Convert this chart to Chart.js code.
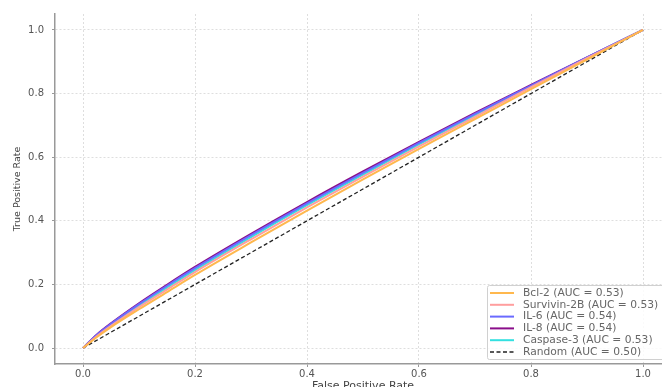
<!DOCTYPE html>
<html>
<head>
<meta charset="utf-8">
<script src="https://cdn.jsdelivr.net/npm/chart.js@4/dist/chart.umd.min.js"></script>
<style>
  html, body { margin: 0; padding: 0; background: #fff; overflow: hidden; width: 662px; height: 387px; }
  #wrap { position: absolute; left: 0; top: 0; width: 672px; height: 398px; }
</style>
</head>
<body>
<div id="wrap"><canvas id="c" width="672" height="398"></canvas></div>
<script>
// False positive rate sample points (shared by all curves)
const fpr = [0, 0.025, 0.05, 0.1, 0.15, 0.2, 0.3, 0.4, 0.5, 0.6, 0.7, 0.8, 0.9, 1.0];
// True positive rate
const tprBcl2     = [0, 0.035, 0.066, 0.122, 0.176, 0.230, 0.332, 0.432, 0.530, 0.626, 0.720, 0.814, 0.907, 1.0];
const tprSurvivin = [0, 0.038, 0.070, 0.129, 0.184, 0.239, 0.342, 0.442, 0.539, 0.634, 0.727, 0.820, 0.911, 1.0];
const tprIL6      = [0, 0.042, 0.076, 0.138, 0.196, 0.251, 0.355, 0.455, 0.551, 0.645, 0.736, 0.825, 0.914, 1.0];
const tprIL8      = [0, 0.043, 0.078, 0.141, 0.199, 0.255, 0.359, 0.459, 0.555, 0.648, 0.739, 0.827, 0.914, 1.0];
const tprCaspase3 = [0, 0.040, 0.073, 0.133, 0.190, 0.245, 0.349, 0.449, 0.545, 0.640, 0.732, 0.823, 0.913, 1.0];
const randomX = [0, 1];
const randomY = [0, 1];
const seriesNames = ["Bcl-2", "Survivin-2B", "IL-6", "IL-8", "Caspase-3", "Random"];
const aucValues = ["0.53", "0.53", "0.54", "0.54", "0.53", "0.50"];
const tickValues = [0, 0.2, 0.4, 0.6, 0.8, 1.0];

const colors = ["#FFB84D", "#FF9E9E", "#6A6AFF", "#8A0E8A", "#33E0E0", "#222222"];
const seriesY = [tprBcl2, tprSurvivin, tprIL6, tprIL8, tprCaspase3];

const pts = (xs, ys) => xs.map((x, i) => ({x: x, y: ys[i]}));

const datasets = seriesY.map((ys, i) => ({
  label: seriesNames[i] + " (AUC = " + aucValues[i] + ")",
  data: pts(fpr, ys),
  borderColor: colors[i],
  borderWidth: 2,
  pointRadius: 0,
  showLine: true,
  fill: false,
  cubicInterpolationMode: 'monotone'
}));
datasets.push({
  label: seriesNames[5] + " (AUC = " + aucValues[5] + ")",
  data: pts(randomX, randomY),
  borderColor: colors[5],
  borderWidth: 1.3,
  borderDash: [4, 2.5],
  pointRadius: 0,
  showLine: true,
  fill: false
});

const legendPlugin = {
  id: 'innerLegend',
  afterDatasetsDraw(chart) {
    const ctx = chart.ctx;
    const x0 = 487, y0 = 285, w = 200, h = 74;
    ctx.save();
    ctx.fillStyle = 'rgba(255,255,255,0.85)';
    ctx.strokeStyle = '#d0d0d0';
    ctx.lineWidth = 1;
    ctx.beginPath();
    if (ctx.roundRect) ctx.roundRect(x0 + 0.5, y0 + 0.5, w, h, 2); else ctx.rect(x0 + 0.5, y0 + 0.5, w, h);
    ctx.fill();
    ctx.stroke();
    ctx.font = '10.7px "DejaVu Sans"';
    ctx.textBaseline = 'middle';
    chart.data.datasets.forEach((ds, i) => {
      const y = y0 + 8 + i * 11.8;
      ctx.strokeStyle = ds.borderColor;
      ctx.lineWidth = ds.borderWidth;
      ctx.setLineDash(ds.borderDash || []);
      ctx.beginPath();
      ctx.moveTo(490, y);
      ctx.lineTo(514, y);
      ctx.stroke();
      ctx.setLineDash([]);
      ctx.fillStyle = '#666';
      ctx.fillText(ds.label, 523, y);
    });
    ctx.restore();
  }
};

const gridCfg = { color: '#dedede', tickLength: 3, tickColor: '#999', drawTicks: true };

new Chart(document.getElementById('c'), {
  type: 'scatter',
  data: { datasets: datasets },
  options: {
    responsive: false,
    animation: false,
    layout: { padding: { top: 12, right: 1, left: 0, bottom: 0 } },
    plugins: { legend: { display: false }, tooltip: { enabled: false } },
    scales: {
      x: {
        type: 'linear', min: -0.05, max: 1.05,
        afterBuildTicks: s => { s.ticks = tickValues.map(v => ({value: v})); },
        afterFit: s => { s.height = 34; },
        ticks: { callback: v => v.toFixed(1), color: '#555', padding: 1, maxRotation: 0,
                 font: { family: 'DejaVu Sans', size: 10 } },
        grid: Object.assign({}, gridCfg),
        border: { color: '#999', width: 1.5, dash: [2, 2] },
        title: { display: true, text: 'False Positive Rate', color: '#444',
                 font: { family: 'DejaVu Sans', size: 11 }, padding: { top: 0, bottom: 5 } }
      },
      y: {
        type: 'linear', min: -0.05, max: 1.05,
        afterBuildTicks: s => { s.ticks = tickValues.map(v => ({value: v})); },
        afterFit: s => { s.width = 55; },
        ticks: { callback: v => v.toFixed(1), color: '#555', padding: 8,
                 font: { family: 'DejaVu Sans', size: 10 } },
        grid: Object.assign({}, gridCfg),
        border: { color: '#999', width: 1.5, dash: [2, 2] },
        title: { display: true, text: 'True Positive Rate', color: '#444',
                 font: { family: 'DejaVu Sans', size: 9.5 }, padding: { top: 12, bottom: 0 } }
      }
    }
  },
  plugins: [legendPlugin]
});
</script>
</body>
</html>
